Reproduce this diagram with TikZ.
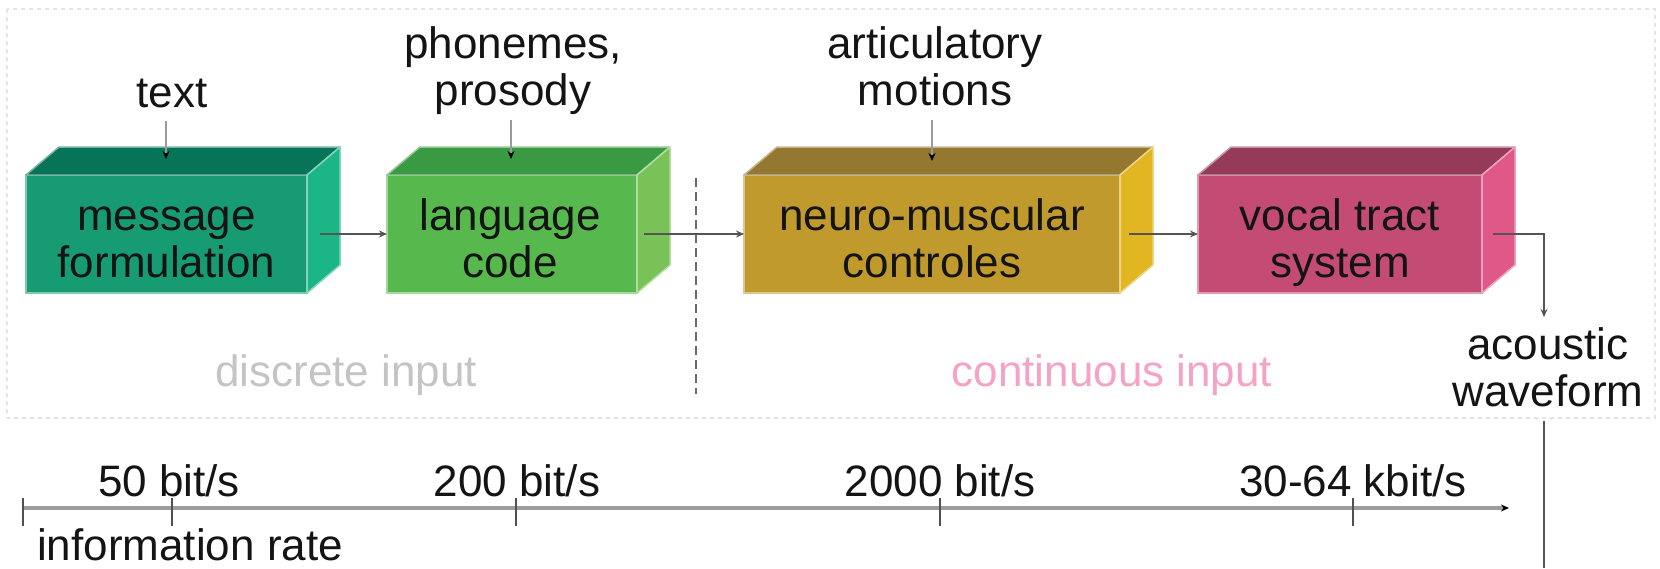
\documentclass[tikz,border=0pt]{standalone}
\usepackage{fontspec}
\setmainfont{Liberation Sans}
\usetikzlibrary{arrows.meta,calc}
\definecolor{txt}{HTML}{141414}
\definecolor{conncol}{HTML}{555555}
\definecolor{inletcol}{HTML}{9A9A9A}
\definecolor{axiscol}{HTML}{9C9C9C}
\definecolor{tickcol}{HTML}{505050}
\definecolor{outercol}{HTML}{E4E4E4}
\definecolor{sepcol}{HTML}{6A6A6A}
\definecolor{discol}{HTML}{C4C4C4}
\definecolor{concol}{HTML}{F4A2C6}
\definecolor{aF}{HTML}{179B73}\definecolor{aT}{HTML}{077458}\definecolor{aS}{HTML}{1CB586}
\definecolor{bF}{HTML}{57B94D}\definecolor{bT}{HTML}{3A9A43}\definecolor{bS}{HTML}{79C258}
\definecolor{cF}{HTML}{C19A2E}\definecolor{cT}{HTML}{957830}\definecolor{cS}{HTML}{E1B622}
\definecolor{dF}{HTML}{C44C74}\definecolor{dT}{HTML}{963A5A}\definecolor{dS}{HTML}{E05888}
\tikzset{
  lbl/.style={font=\fontsize{44}{47}\selectfont, text=txt, inner sep=0pt, align=center},
  conn/.style={draw=conncol, line width=2pt, -{Stealth[length=8pt,width=7pt]}},
  inlet/.style={draw=inletcol, line width=2.5pt, -{Stealth[length=8pt,width=7pt,color=black]}},
  plainline/.style={draw=conncol, line width=2pt},
  frontface/.style={rectangle, inner sep=0pt, outer sep=0pt, minimum height=118pt, line width=1.5pt},
  axisline/.style={draw=axiscol, line width=3.5pt, -{Stealth[length=8pt,width=7pt,color=black]}},
  tickline/.style={draw=tickcol, line width=2pt},
}
\newcommand\boxfaces[3]{%
  \filldraw[fill=#2, draw=#2!55!white, line width=1.5pt, line join=round]
    (#1.north west) -- ++(33,-28) -- ($(#1.north east)+(33,-28)$) -- (#1.north east) -- cycle;
  \filldraw[fill=#3, draw=#3!55!white, line width=1.5pt, line join=round]
    (#1.north east) -- ++(33,-28) -- ($(#1.south east)+(33,-28)$) -- (#1.south east) -- cycle;}
\begin{document}
\begin{tikzpicture}[x=1pt,y=-1pt]
\useasboundingbox (0,0) rectangle (1660,568);
% outer dashed frame
\draw[outercol, line width=2.5pt, dash pattern=on 4pt off 4pt] (7,9) rectangle (1655,418);
% separator
\draw[sepcol, line width=1.5pt, dash pattern=on 9pt off 5pt] (696,178) -- (696,394);
% boxes
\node[frontface, fill=aF, draw=aF!55!white, minimum width=281pt] (b1) at (166.5,234) {};
\boxfaces{b1}{aT}{aS}
\node[frontface, fill=bF, draw=bF!55!white, minimum width=250pt] (b2) at (512,234) {};
\boxfaces{b2}{bT}{bS}
\node[frontface, fill=cF, draw=cF!55!white, minimum width=376pt] (b3) at (932,234) {};
\boxfaces{b3}{cT}{cS}
\node[frontface, fill=dF, draw=dF!55!white, minimum width=284pt] (b4) at (1340,234) {};
\boxfaces{b4}{dT}{dS}
% box texts
\node[lbl] (b1t) at (166.5,245) {\strut message\\\strut formulation};
\node[lbl] (b2t) at (510,245) {\strut language\\\strut code};
\node[lbl] (b3t) at (932,245) {\strut neuro-muscular\\\strut controles};
\node[lbl] (b4t) at (1340,245) {\strut vocal tract\\\strut system};
% top labels
\node[lbl] (tx) at (172,97.6) {\strut text};
\node[lbl] (ph) at (513,73) {\strut phonemes,\\\strut prosody};
\node[lbl] (ar) at (935,73) {\strut articulatory\\\strut motions};
\coordinate (b1in) at (166,159);
\coordinate (b2in) at (511,159);
\coordinate (b3in) at (932,161);
\draw[inlet] (b1in |- tx.south) -- (b1in);
\draw[inlet] (b2in |- ph.south) -- (b2in);
\draw[inlet] (b3in |- ar.south) -- (b3in);
% connectors between boxes
\draw[conn] ([xshift=13pt]b1.east) -- (b2.west);
\draw[conn] ([xshift=7pt]b2.east) -- (b3.west);
\draw[conn] ([xshift=9pt]b3.east) -- (b4.west);
\node[lbl] (ac) at (1548,374) {\strut acoustic\\\strut waveform};
\coordinate (acin) at (1544,317);
\draw[conn] ([xshift=11pt]b4.east) -| (acin);
\coordinate (bot) at (1544,568);
\draw[plainline] (bot |- ac.south) -- (bot);
% input kind labels
\node[lbl, anchor=base, text=discol] (dis) at (346,386) {discrete input};
\node[lbl, anchor=base, text=concol] (con) at (1112,386) {continuous input};
% timeline
\coordinate (t0) at (23,508);
\coordinate (tend) at (1509,508);
\coordinate (k1) at (172,508);
\coordinate (k2) at (516,508);
\coordinate (k3) at (940,508);
\coordinate (k4) at (1353,508);
\draw[axisline] (t0) -- (tend);
\foreach \k in {t0,k1,k2,k3,k4}
  \draw[tickline] ([yshift=10pt]\k) -- ([yshift=-18pt]\k);
\node[lbl] (r1) at (169,487) {\strut 50 bit/s};
\node[lbl] (r2) at (517,487) {\strut 200 bit/s};
\node[lbl] (r3) at (940,487) {\strut 2000 bit/s};
\node[lbl] (r4) at (1353,487) {\strut 30-64 kbit/s};
\node[lbl, anchor=base west] (ir) at (37,560) {information rate};
\end{tikzpicture}
\end{document}
